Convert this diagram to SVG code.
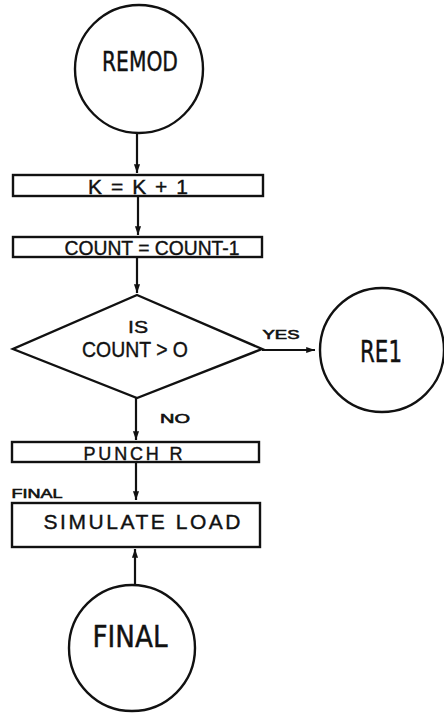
<svg xmlns="http://www.w3.org/2000/svg" width="444" height="713" viewBox="0 0 444 713">
  <style>
    .shape { fill: none; stroke: #111; stroke-width: 2.4; }
    .edge { fill: none; stroke: #111; stroke-width: 2.2; }
    text { font-family: "Liberation Sans", Arial, sans-serif; fill: #111; stroke: #111; stroke-width: 0.4; text-anchor: middle; }
    .cond { font-family: "DejaVu Sans Condensed", "Liberation Sans", sans-serif; }
    .small { font-size: 13px; stroke-width: 0.6; }
  </style>
  <defs>
    <marker id="arrow" viewBox="0 0 10 10" refX="10" refY="5" markerWidth="4.5" markerHeight="4" orient="auto" markerUnits="strokeWidth">
      <path d="M0,1.5 L10,5 L0,8.5 Z" fill="#111"/>
    </marker>
  </defs>
  <rect width="444" height="713" fill="#fff"/>

  <!-- connectors -->
  <g id="connectors">
    <line class="edge" x1="137" y1="133" x2="137" y2="173" marker-end="url(#arrow)"/>
    <line class="edge" x1="138" y1="197" x2="138" y2="235" marker-end="url(#arrow)"/>
    <line class="edge" x1="137" y1="258" x2="137" y2="293" marker-end="url(#arrow)"/>
    <line class="edge" x1="262" y1="350" x2="315" y2="350" marker-end="url(#arrow)"/>
    <line class="edge" x1="136" y1="398" x2="136" y2="440" marker-end="url(#arrow)"/>
    <line class="edge" x1="136" y1="463" x2="136" y2="500" marker-end="url(#arrow)"/>
    <line class="edge" x1="135" y1="585" x2="135" y2="549" marker-end="url(#arrow)"/>
    <text class="small" x="281" y="339" font-size="12" textLength="37" lengthAdjust="spacingAndGlyphs">YES</text>
    <text class="small" x="175" y="423" textLength="30" lengthAdjust="spacingAndGlyphs">NO</text>
    <text class="small" x="37" y="498" textLength="51" lengthAdjust="spacingAndGlyphs">FINAL</text>
  </g>

  <g id="remod">
    <circle class="shape" cx="139" cy="69" r="64"/>
    <text class="cond" x="140" y="71" font-size="27" textLength="76" lengthAdjust="spacingAndGlyphs">REMOD</text>
  </g>

  <g id="increment-k">
    <rect class="shape" x="13" y="175" width="250" height="21"/>
    <text x="138" y="193.5" font-size="21" textLength="100" lengthAdjust="spacing">K = K + 1</text>
  </g>

  <g id="decrement-count">
    <rect class="shape" x="13" y="237" width="249" height="20"/>
    <text x="152" y="255" font-size="21" textLength="175" lengthAdjust="spacingAndGlyphs">COUNT = COUNT-1</text>
  </g>

  <g id="test-count">
    <polygon class="shape" points="137,295 262,349 137,398 13,349"/>
    <text x="138" y="333" font-size="16" textLength="20" lengthAdjust="spacingAndGlyphs">IS</text>
    <text x="135" y="357" font-size="22" textLength="106" lengthAdjust="spacingAndGlyphs">COUNT &gt; O</text>
  </g>

  <g id="re1">
    <circle class="shape" cx="382" cy="350" r="62"/>
    <text class="cond" x="381" y="362" font-size="30" textLength="42" lengthAdjust="spacingAndGlyphs">RE1</text>
  </g>

  <g id="punch-r">
    <rect class="shape" x="12" y="442" width="247" height="20"/>
    <text x="133" y="459.5" font-size="18" textLength="99" lengthAdjust="spacing">PUNCH R</text>
  </g>

  <g id="simulate-load">
    <rect class="shape" x="12" y="503" width="248" height="44"/>
    <text x="142" y="528.5" font-size="21" textLength="197" lengthAdjust="spacing">SIMULATE LOAD</text>
  </g>

  <g id="final">
    <circle class="shape" cx="132" cy="648" r="63"/>
    <text class="cond" x="130" y="647" font-size="30" textLength="75" lengthAdjust="spacingAndGlyphs">FINAL</text>
  </g>
</svg>
